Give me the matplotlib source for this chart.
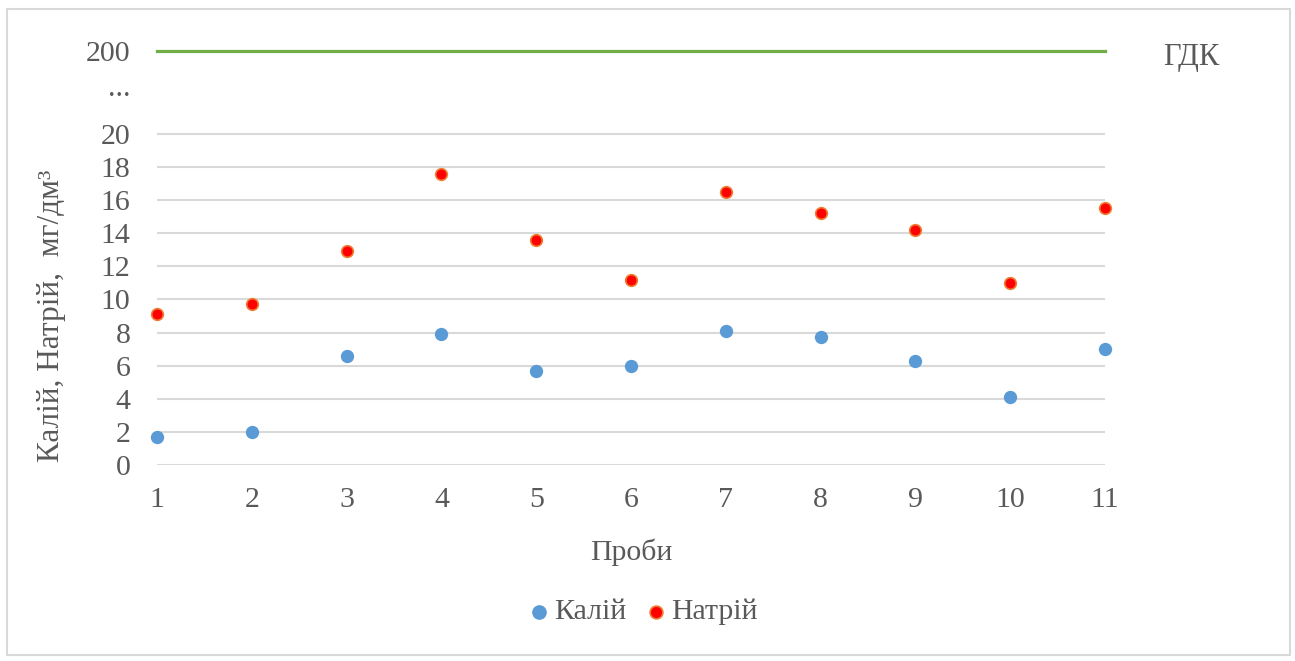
import numpy as np
import matplotlib
matplotlib.use("Agg")
import matplotlib.pyplot as plt
from matplotlib.patches import Rectangle

plt.rcParams['font.family'] = ['Liberation Serif', 'DejaVu Serif']

# Samples and measured concentrations, mg/dm3
samples = np.arange(1, 12)
kalii = [1.7, 2.0, 6.6, 7.9, 5.7, 6.0, 8.1, 7.7, 6.3, 4.1, 7.0]
natrii = [9.1, 9.7, 12.9, 17.6, 13.6, 11.2, 16.5, 15.2, 14.2, 11.0, 15.5]
gdk = [200] * 11

y_ticks = [0, 2, 4, 6, 8, 10, 12, 14, 16, 18, 20, 125, 200]
y_ticklabels = ['0', '2', '4', '6', '8', '10', '12', '14', '16', '18', '20', '...', '200']


# Squeeze everything above 20 so the limit value fits on the same axis
def fwd(y):
    y = np.asarray(y, dtype=float)
    return np.where(y <= 20, y, 20 + (y - 20) / 36.0)


def inv(z):
    z = np.asarray(z, dtype=float)
    return np.where(z <= 20, z, 20 + (z - 20) * 36.0)


text_col = '#595959'
grid_col = '#D9D9D9'
fs = 21.5

fig = plt.figure(figsize=(12.95, 6.61), dpi=100)
fig.patches.append(Rectangle((7 / 1295, 6 / 661), 1283 / 1295, 646 / 661,
                             transform=fig.transFigure, fill=False,
                             edgecolor='#D9D9D9', linewidth=1.5))

ax = fig.add_axes([157 / 1295, 1 - 465 / 661, 948 / 1295, 414 / 661])
ax.set_yscale('function', functions=(fwd, inv))
ax.set_xlim(1, 11)
ax.set_ylim(0, 200)

ax.hlines(y_ticks[:11], 1, 11, color=grid_col, linewidth=1.5, zorder=0)

ax.plot(samples, gdk, color='#70AD47', linewidth=2.3, clip_on=False, zorder=2)
ax.scatter(samples, kalii, s=92, color='#5B9BD5', linewidths=0,
           clip_on=False, zorder=3, label='Калій')
ax.scatter(samples, natrii, s=70, color='#FF0000', edgecolors='#ED7D31',
           linewidths=1.2, clip_on=False, zorder=3, label='Натрій')

ax.annotate('ГДК', xy=(11, 200), xytext=(58, -6), textcoords='offset pixels',
            ha='left', va='center', fontsize=22, color=text_col,
            annotation_clip=False)

ax.set_yticks(y_ticks)
ax.set_yticklabels(y_ticklabels)
ax.set_xticks(samples)
ax.tick_params(axis='both', length=0, labelsize=fs, labelcolor=text_col)
ax.tick_params(axis='y', pad=19)
ax.tick_params(axis='x', pad=16)
for s in ax.spines.values():
    s.set_visible(False)

ax.set_xlabel('Проби', fontsize=fs, color=text_col, labelpad=18)
fig.text(52 / 1295, 1 - 316 / 661, 'Калій, Натрій,  мг/дм³', rotation=90,
         ha='center', va='center', fontsize=22.5, color=text_col)

fig.legend(loc='center', bbox_to_anchor=(642 / 1295, 1 - 612 / 661), ncol=2,
           frameon=False, fontsize=fs, labelcolor=text_col, handletextpad=0.1,
           handlelength=0.8, columnspacing=0.6, scatterpoints=1,
           markerscale=1.1)

fig.savefig('out.png', dpi=100, facecolor='white')
